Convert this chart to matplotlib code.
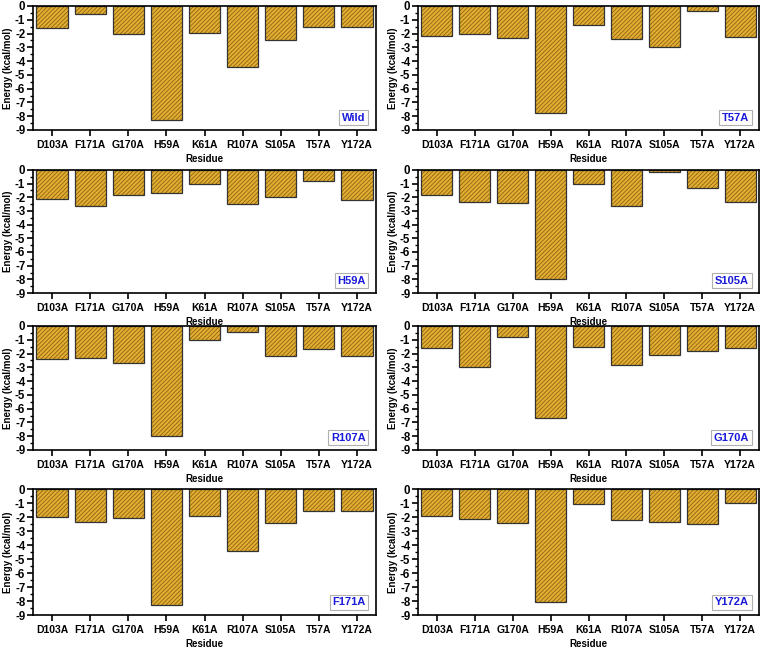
import numpy as np
import matplotlib.pyplot as plt

residues = ["D103A", "F171A", "G170A", "H59A", "K61A", "R107A", "S105A", "T57A", "Y172A"]

wild = [-1.6, -0.6, -2.05, -8.3, -1.95, -4.4, -2.45, -1.55, -1.55]
t57a = [-2.15, -2.0, -2.3, -7.8, -1.35, -2.4, -2.95, -0.35, -2.25]
h59a = [-2.1, -2.65, -1.85, -1.65, -1.0, -2.5, -2.0, -0.8, -2.2]
s105a = [-1.85, -2.35, -2.45, -8.0, -1.05, -2.6, -0.15, -1.3, -2.35]
r107a = [-2.4, -2.3, -2.65, -7.95, -1.0, -0.45, -2.15, -1.65, -2.2]
g170a = [-1.6, -2.95, -0.8, -6.7, -1.5, -2.8, -2.1, -1.85, -1.6]
f171a = [-2.0, -2.35, -2.05, -8.3, -1.95, -4.4, -2.45, -1.55, -1.6]
y172a = [-1.9, -2.15, -2.4, -8.1, -1.05, -2.2, -2.35, -2.5, -1.0]

panels = [
    ("Wild", wild), ("T57A", t57a),
    ("H59A", h59a), ("S105A", s105a),
    ("R107A", r107a), ("G170A", g170a),
    ("F171A", f171a), ("Y172A", y172a),
]

plt.rcParams['font.family'] = ['Liberation Sans', 'DejaVu Sans']
plt.rcParams['font.weight'] = 'bold'
plt.rcParams['hatch.linewidth'] = 0.6

W, H = 763, 649
fig = plt.figure(figsize=(W / 100, H / 100), dpi=100)

cols = [(33, 376), (418, 759)]
rows = [(6, 130), (170, 293), (326, 450), (489, 615)]

x = np.arange(len(residues))

for i, (name, vals) in enumerate(panels):
    c0, c1 = cols[i % 2]
    r0, r1 = rows[i // 2]
    ax = fig.add_axes([c0 / W, 1 - r1 / H, (c1 - c0) / W, (r1 - r0) / H])
    # hatched fill, then dark outline on top
    ax.bar(x, vals, width=0.82, color='#E4AE30', edgecolor='#8a6418',
           linewidth=0, hatch='////////')
    ax.bar(x, vals, width=0.82, fill=False, edgecolor='#333333', linewidth=0.9)
    ax.set_xlim(-0.5, len(residues) - 0.5)
    ax.set_ylim(-9, 0)
    ax.set_yticks(np.arange(0, -10, -1))
    ax.set_yticklabels([str(v) for v in range(0, -10, -1)])
    ax.set_yticks(np.arange(0, -9.5, -0.5), minor=True)
    ax.set_xticks(x)
    ax.set_xticklabels(residues)
    ax.tick_params(axis='both', direction='out', width=1.2)
    ax.tick_params(axis='y', which='major', length=4, pad=1.5, labelsize=8.3)
    ax.tick_params(axis='y', which='minor', length=2, width=1)
    ax.tick_params(axis='x', length=4, pad=3, labelsize=7.5)
    for s in ax.spines.values():
        s.set_linewidth(1.2)
    ax.set_xlabel("Residue", fontsize=7, fontweight='bold', labelpad=3)
    ax.set_ylabel("Energy (kcal/mol)", fontsize=7, fontweight='bold', labelpad=1.5)
    ax.text(0.97, 0.06, name, transform=ax.transAxes, ha='right', va='bottom',
            color='#1a1adb', fontsize=8, fontweight='bold',
            bbox=dict(facecolor='white', edgecolor='#b0b0b0', linewidth=0.8, pad=2))

fig.savefig("out.png", dpi=100)
